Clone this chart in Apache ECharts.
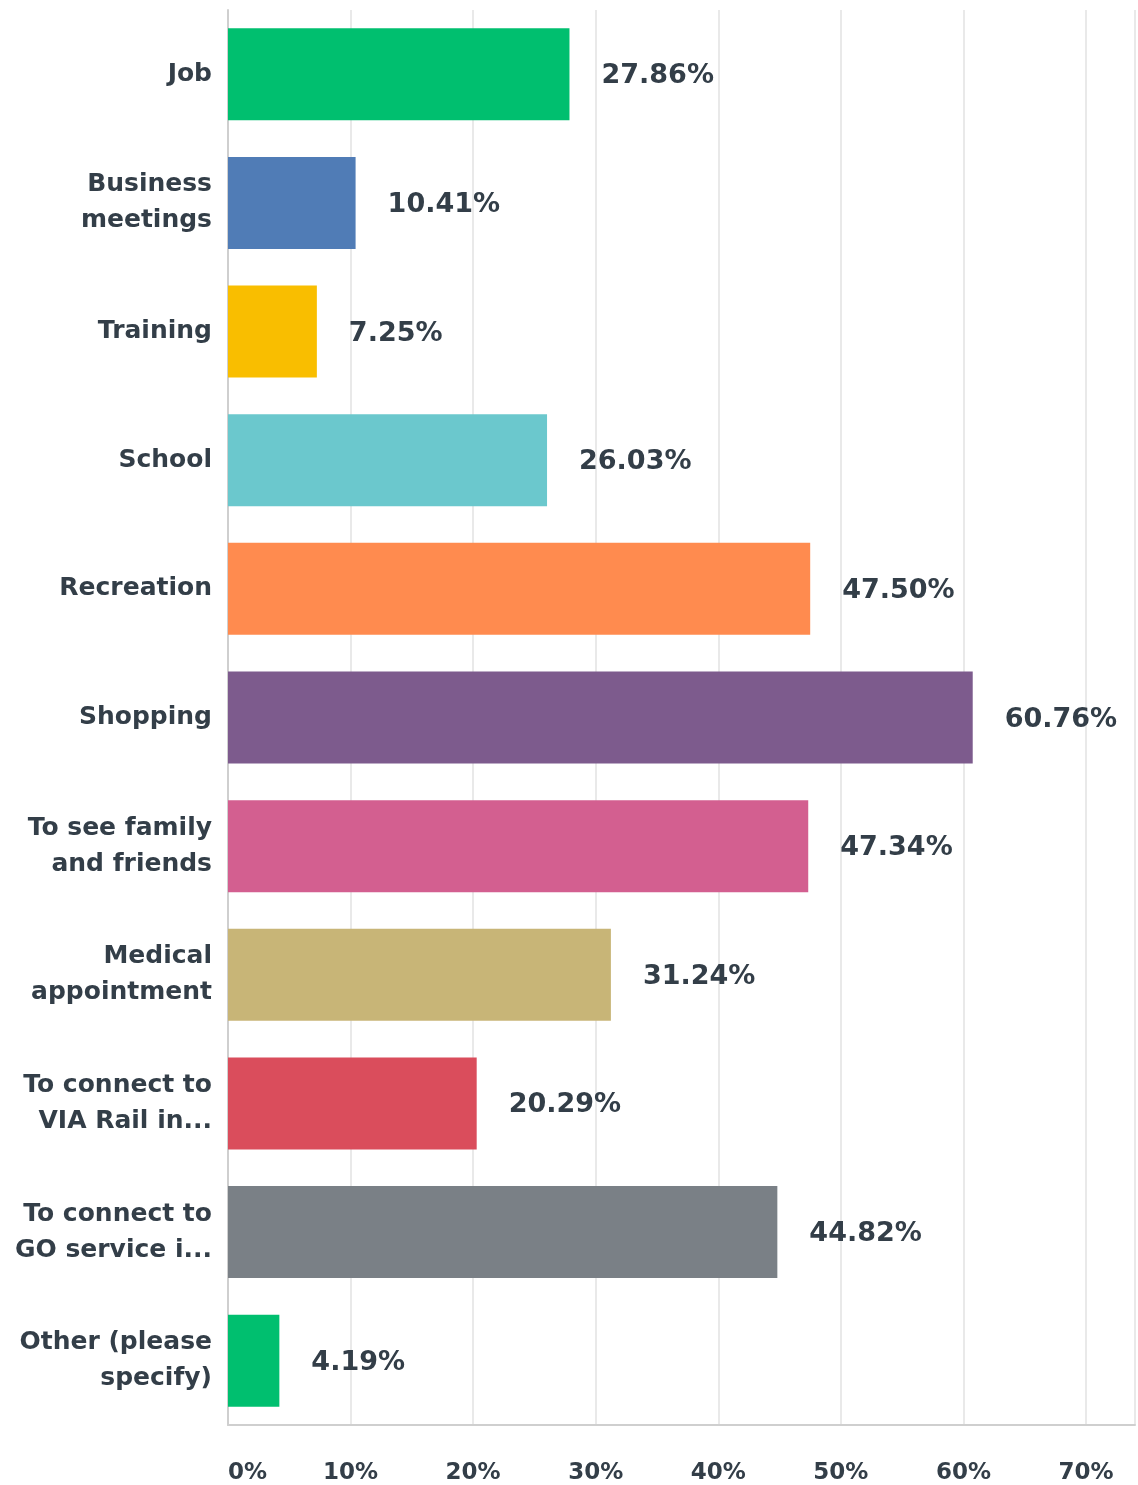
<!DOCTYPE html>
<html>
<head>
<meta charset="utf-8">
<script src="https://cdn.jsdelivr.net/npm/echarts@6/dist/echarts.min.js"></script>
<style>
html,body{margin:0;padding:0;background:#fff;}
#chart{width:1138px;height:1485px;}
</style>
</head>
<body>
<div id="chart"></div>
<script>
const categories = [
  'Job',
  'Business\nmeetings',
  'Training',
  'School',
  'Recreation',
  'Shopping',
  'To see family\nand friends',
  'Medical\nappointment',
  'To connect to\nVIA Rail in...',
  'To connect to\nGO service i...',
  'Other (please\nspecify)'
];
const values = [27.86, 10.41, 7.25, 26.03, 47.50, 60.76, 47.34, 31.24, 20.29, 44.82, 4.19];
const colors = ['#00bf6f', '#507cb6', '#f9be00', '#6bc8cd', '#ff8b4f', '#7d5b8d', '#d35f90', '#c8b577', '#da4d5c', '#7a8086', '#00bf6f'];
const xTicks = [0, 10, 20, 30, 40, 50, 60, 70];

const FONT = '"DejaVu Sans", "Open Sans", sans-serif';
const chart = echarts.init(document.getElementById('chart'), null, {renderer: 'canvas'});
chart.setOption({
  animation: false,
  backgroundColor: '#fff',
  grid: {left: 228, right: 0, top: 10, bottom: 59, containLabel: false},
  xAxis: {
    type: 'value',
    min: 0,
    max: 74,
    interval: 10,
    axisLine: {show: true, lineStyle: {color: '#cfcfcf', width: 2}},
    axisTick: {show: false},
    splitLine: {show: true, lineStyle: {color: '#e9e9e9', width: 2}},
    axisLabel: {
      margin: 37,
      color: '#333e48',
      fontFamily: FONT,
      fontWeight: 'bold',
      fontSize: 23,
      alignMinLabel: 'left',
      formatter: function (v) { return xTicks.indexOf(v) >= 0 ? v + '%' : ''; }
    }
  },
  yAxis: {
    type: 'category',
    inverse: true,
    data: categories,
    axisLine: {show: true, lineStyle: {color: '#cfcfcf', width: 2}},
    axisTick: {show: false},
    splitLine: {show: false},
    axisLabel: {
      margin: 16,
      color: '#333e48',
      fontFamily: FONT,
      fontWeight: 'bold',
      fontSize: 25,
      lineHeight: 36,
      align: 'right'
    }
  },
  series: [{
    type: 'bar',
    barWidth: 92,
    data: values.map(function (v, i) { return {value: v, itemStyle: {color: colors[i]}}; }),
    label: {
      show: true,
      position: 'right',
      distance: 32,
      color: '#333e48',
      fontFamily: FONT,
      fontWeight: 'bold',
      fontSize: 27,
      offset: [0, 2],
      formatter: function (p) { return p.value.toFixed(2) + '%'; }
    }
  }]
});
</script>
</body>
</html>
